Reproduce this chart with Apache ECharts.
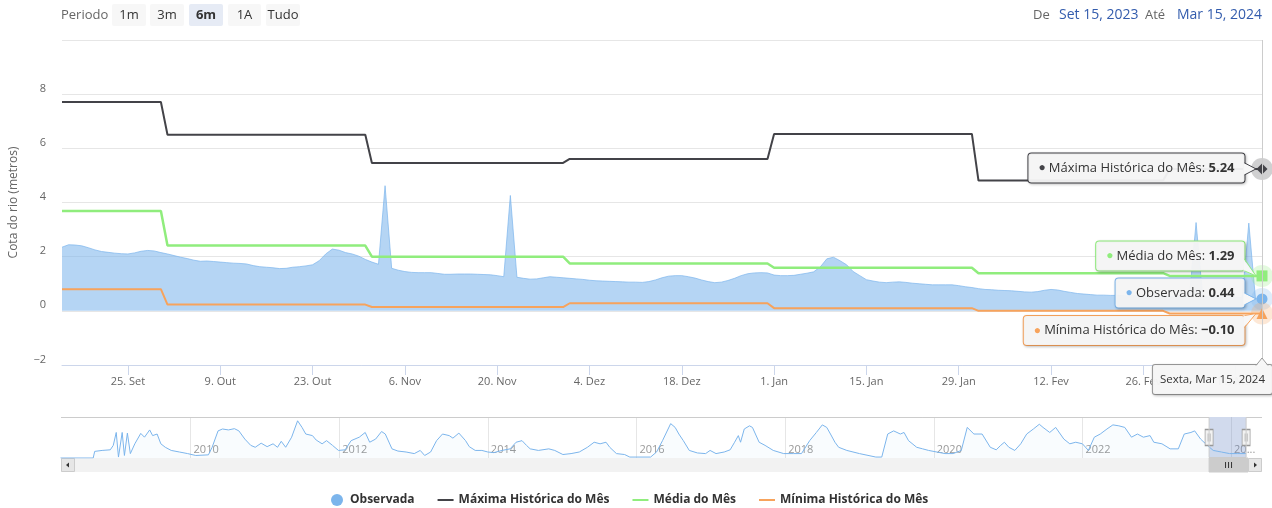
<!DOCTYPE html>
<html><head><meta charset="utf-8">
<script src="https://cdn.jsdelivr.net/npm/echarts@6/dist/echarts.min.js"></script>
<style>html,body{margin:0;padding:0;background:#fff}#c{width:1272px;height:508px}</style>
</head><body><div id="c"></div>
<script>
// ---------------- DATA ----------------
const startDate = '2023-09-15';
const endDate = '2024-03-15';
// daily observed river level (m), Sep 15 2023 .. Mar 15 2024
const observada = [
2.35,2.44,2.43,2.40,2.33,2.25,2.19,2.16,2.13,2.11,
2.10,2.14,2.20,2.23,2.21,2.15,2.10,2.04,1.98,1.93,
1.87,1.83,1.84,1.82,1.80,1.78,1.76,1.75,1.73,1.67,
1.63,1.61,1.59,1.56,1.57,1.61,1.63,1.66,1.70,1.85,
2.10,2.28,2.24,2.15,2.10,2.02,1.90,1.80,1.72,4.62,
1.57,1.50,1.45,1.42,1.41,1.41,1.41,1.38,1.35,1.35,
1.36,1.36,1.36,1.35,1.34,1.33,1.30,1.26,4.26,1.24,
1.20,1.17,1.18,1.22,1.26,1.24,1.22,1.20,1.18,1.16,
1.13,1.11,1.10,1.09,1.08,1.07,1.06,1.06,1.05,1.08,
1.14,1.22,1.28,1.30,1.30,1.26,1.21,1.14,1.08,1.04,
1.06,1.12,1.20,1.30,1.37,1.40,1.41,1.40,1.32,1.30,
1.30,1.31,1.35,1.39,1.44,1.62,1.92,1.98,1.85,1.70,
1.45,1.30,1.15,1.10,1.06,1.04,1.06,1.07,1.05,1.02,
1.00,0.98,0.96,0.96,0.96,0.96,0.93,0.89,0.86,0.82,
0.79,0.78,0.76,0.75,0.74,0.72,0.70,0.69,0.71,0.76,
0.79,0.77,0.72,0.68,0.64,0.62,0.60,0.58,0.58,0.57,
0.57,0.56,0.56,0.55,0.55,0.55,0.54,0.54,0.53,0.53,
0.52,0.52,3.26,0.52,0.51,0.51,0.50,0.50,0.49,0.49,
3.24,0.47,0.44
];
const monthStarts = ['2023-09-15','2023-10-01','2023-11-01','2023-12-01','2024-01-01','2024-02-01','2024-03-01'];
const monthEnds   = ['2023-09-30','2023-10-31','2023-11-30','2023-12-31','2024-01-31','2024-02-29','2024-03-15'];
const maxima = [7.71, 6.50, 5.46, 5.61, 6.53, 4.81, 5.24];
const media  = [3.69, 2.41, 2.00, 1.75, 1.59, 1.39, 1.29];
const minima = [0.80, 0.23, 0.14, 0.28, 0.10, 0.00, -0.10];
const xTickDates  = ['2023-09-25','2023-10-09','2023-10-23','2023-11-06','2023-11-20','2023-12-04','2023-12-18','2024-01-01','2024-01-15','2024-01-29','2024-02-12','2024-02-26','2024-03-11'];
const xTickLabels = ['25. Set','9. Out','23. Out','6. Nov','20. Nov','4. Dez','18. Dez','1. Jan','15. Jan','29. Jan','12. Fev','26. Fev','11. Mar'];
const seriesNames = ['Observada','Máxima Histórica do Mês','Média do Mês','Mínima Histórica do Mês'];
// navigator (full history, decimal years)
const navYears = [2008.25,2008.69,2008.71,2008.81,2008.92,2008.96,2009.00,2009.03,2009.08,2009.11,2009.15,2009.19,2009.25,2009.33,2009.38,2009.45,2009.49,2009.55,2009.60,2009.66,2009.74,2009.85,2009.96,2010.07,2010.24,2010.29,2010.37,2010.43,2010.51,2010.59,2010.65,2010.73,2010.81,2010.87,2010.95,2011.03,2011.11,2011.17,2011.22,2011.28,2011.36,2011.44,2011.50,2011.55,2011.64,2011.69,2011.77,2011.83,2011.91,2011.99,2012.08,2012.16,2012.27,2012.35,2012.41,2012.49,2012.57,2012.62,2012.71,2012.79,2012.90,2013.01,2013.09,2013.15,2013.23,2013.31,2013.39,2013.48,2013.53,2013.61,2013.70,2013.75,2013.83,2013.92,2014.00,2014.08,2014.19,2014.30,2014.38,2014.46,2014.52,2014.57,2014.68,2014.82,2014.90,2015.01,2015.12,2015.23,2015.34,2015.43,2015.51,2015.59,2015.64,2015.73,2015.84,2015.91,2016.19,2016.27,2016.35,2016.46,2016.52,2016.57,2016.63,2016.71,2016.82,2016.93,2016.99,2017.07,2017.18,2017.26,2017.32,2017.37,2017.40,2017.45,2017.52,2017.56,2017.65,2017.73,2017.84,2017.98,2018.11,2018.22,2018.33,2018.42,2018.50,2018.56,2018.61,2018.67,2018.72,2018.83,2019.00,2019.22,2019.30,2019.38,2019.46,2019.55,2019.60,2019.66,2019.77,2019.85,2019.93,2020.15,2020.26,2020.37,2020.45,2020.54,2020.65,2020.76,2020.84,2020.90,2020.95,2021.01,2021.09,2021.17,2021.25,2021.34,2021.42,2021.47,2021.56,2021.64,2021.75,2021.83,2021.91,2022.00,2022.08,2022.16,2022.24,2022.33,2022.41,2022.49,2022.57,2022.66,2022.74,2022.82,2022.91,2022.96,2023.07,2023.18,2023.29,2023.37,2023.46,2023.51,2023.59,2023.68,2023.76,2023.87,2023.98,2024.09,2024.20];
const navValues = [0.0,0.0,2.1,2.4,2.6,4.0,8.1,0.3,8.1,0.8,7.9,1.4,4.5,7.8,6.6,8.9,7.1,7.6,4.5,3.4,2.4,1.9,1.4,0.8,1.0,3.4,8.6,9.2,8.9,9.3,8.6,6.0,4.0,3.4,4.7,3.6,4.5,3.4,5.3,3.4,6.6,11.8,9.7,7.6,7.1,5.7,4.5,5.5,4.0,2.4,2.6,5.5,6.6,8.1,5.0,6.0,8.4,7.6,2.9,2.2,1.9,1.4,2.4,0.8,1.9,5.5,7.6,7.1,6.3,7.9,5.5,3.6,2.4,2.4,1.9,1.7,2.4,2.9,5.0,5.5,4.0,2.9,2.4,2.9,2.4,1.1,1.4,1.9,3.4,5.0,4.5,5.0,3.4,1.4,1.1,0.3,0.3,1.9,5.5,10.9,9.7,7.6,5.5,2.4,1.6,1.4,2.4,1.4,1.9,2.6,5.0,7.1,5.0,9.2,10.2,9.7,5.0,4.0,2.4,1.4,1.4,1.4,5.5,8.1,10.5,9.7,7.6,5.0,3.4,2.4,1.4,0.3,0.3,7.6,8.6,7.6,8.1,5.5,3.4,2.9,2.4,1.4,1.4,2.4,9.7,7.6,7.6,3.4,2.6,4.0,5.0,3.4,2.4,4.5,7.6,9.2,10.7,9.7,8.1,9.7,6.0,4.5,5.0,4.5,2.4,6.6,7.6,9.2,10.5,10.2,9.7,6.6,7.6,6.6,7.1,5.0,4.5,2.9,2.9,7.6,8.1,8.6,6.0,4.0,2.4,1.9,1.4,1.4,1.4];
const navYearTicks = [2010,2012,2014,2016,2018,2020,2022,2024];

// ---------------- HELPERS ----------------
const FONT = 'Open Sans';
const DAY = 86400000;
const MONTHS = ['Jan','Fev','Mar','Abr','Mai','Jun','Jul','Ago','Set','Out','Nov','Dez'];
const WEEKDAYS = ['Domingo','Segunda','Terça','Quarta','Quinta','Sexta','Sábado'];
function ts(s){ const p = s.split('-').map(Number); return Date.UTC(p[0], p[1]-1, p[2]); }
function decYear(t){ const d = new Date(t); const y = d.getUTCFullYear(); const a = Date.UTC(y,0,1), b = Date.UTC(y+1,0,1); return y + (t-a)/(b-a); }
function fmtNum(v){ const s = Math.abs(v).toFixed(2); return (v < 0 ? '\u2212' : '') + s; }
function fmtDate(t){ const d = new Date(t); return MONTHS[d.getUTCMonth()] + ' ' + d.getUTCDate() + ', ' + d.getUTCFullYear(); }
const t0 = ts(startDate), t1 = ts(endDate);
const obsData = observada.map((v,i) => [t0 + i*DAY, v]);
function stepData(vals){ const out = []; vals.forEach((v,k) => { out.push([ts(monthStarts[k]), v]); out.push([ts(monthEnds[k]), v]); }); return out; }
const xTickTs = xTickDates.map(ts);
const tickMap = {}; xTickTs.forEach((t,i) => tickMap[t] = xTickLabels[i]);
const navData = navYears.map((y,i) => [y, navValues[i]]);
const selStart = decYear(t0), selEnd = decYear(t1);

const TIP_BG = 'rgba(247,247,247,0.95)';
const tips = [
  {name: seriesNames[1], color: '#434348', val: maxima[maxima.length-1], symbol: 'diamond', dy: -1, halo: 'rgba(67,67,72,0.25)'},
  {name: seriesNames[2], color: '#90ed7d', val: media[media.length-1], symbol: 'rect', dy: -20, halo: 'rgba(144,237,125,0.25)'},
  {name: seriesNames[0], color: '#7cb5ec', val: observada[observada.length-1], symbol: 'circle', dy: -6, halo: 'rgba(124,181,236,0.25)'},
  {name: seriesNames[3], color: '#f7a35c', val: minima[minima.length-1], symbol: 'triangle', dy: 17, halo: 'rgba(247,163,92,0.25)'}
];
function tip(k) {
  const o = tips[k];
  return {
    silent: true, animation: false,
    data: [
      {coord: [t1, o.val], symbol: 'circle', symbolSize: 22, itemStyle: {color: o.halo}, label: {show: false}},
      {coord: [t1, o.val], symbol: o.symbol, symbolSize: 11, itemStyle: {color: o.color}, label: {
        show: true, position: 'left', distance: 12, offset: [0, o.dy],
        formatter: '{d|\u25CF} {n|' + o.name + ': }{v|' + fmtNum(o.val) + '}',
        backgroundColor: TIP_BG, borderColor: o.color, borderWidth: 1, borderRadius: 3,
        padding: [8, 10, 8, 10],
        shadowColor: 'rgba(0,0,0,0.2)', shadowBlur: 3, shadowOffsetX: 1, shadowOffsetY: 1,
        rich: {
          d: {color: o.color, fontSize: 12, fontFamily: FONT},
          n: {color: '#333', fontSize: 13, fontFamily: FONT},
          v: {color: '#333', fontSize: 13, fontWeight: 'bold', fontFamily: FONT}
        }
      }}
    ]
  };
}

const lineIcon = 'path://M0,0H16V2H0Z';
const chart = echarts.init(document.getElementById('c'), null, {renderer: 'canvas'});
const option = {
  animation: false,
  textStyle: {fontFamily: FONT},
  grid: [
    {left: 61, right: 10, top: 40, height: 325},
    {left: 61, right: 10, top: 417, height: 41}
  ],
  legend: {
    top: 489, left: 326, itemWidth: 16, itemHeight: 12, itemGap: 23,
    itemStyle: {borderWidth: 0},
    textStyle: {fontFamily: FONT, fontSize: 12, fontWeight: 'bold', color: '#333'},
    data: [
      {name: seriesNames[0], icon: 'circle'},
      {name: seriesNames[1], icon: lineIcon},
      {name: seriesNames[2], icon: lineIcon},
      {name: seriesNames[3], icon: lineIcon}
    ]
  },
  xAxis: [
    {
      type: 'value', gridIndex: 0, min: t0, max: t1,
      axisLine: {onZero: false, lineStyle: {color: '#ccd6eb'}},
      axisTick: {show: true, length: 10, lineStyle: {color: '#ccd6eb'}, customValues: xTickTs},
      axisLabel: {customValues: xTickTs, formatter: v => tickMap[v] || '', color: '#666', fontSize: 11, margin: 11, fontFamily: FONT, hideOverlap: false},
      splitLine: {show: false},
      axisPointer: {
        show: true, type: 'line', value: t1, status: 'show', snap: false, triggerTooltip: false,
        lineStyle: {color: '#cccccc', width: 1, type: 'solid'},
        label: {
          show: true, margin: 0,
          formatter: p => WEEKDAYS[new Date(p.value).getUTCDay()] + ', ' + fmtDate(p.value),
          backgroundColor: 'rgba(247,247,247,0.97)', borderColor: '#999', borderWidth: 1, borderRadius: 2,
          color: '#333', fontSize: 11.5, fontFamily: FONT, padding: [9, 7, 8, 7],
          shadowColor: 'rgba(0,0,0,0.2)', shadowBlur: 3, shadowOffsetX: 1, shadowOffsetY: 1
        }
      }
    },
    {
      type: 'value', gridIndex: 1, min: decYear(Date.UTC(2008,3,4)), max: 2024.416,
      axisLine: {show: false},
      axisTick: {show: false, customValues: navYearTicks},
      axisLabel: {inside: true, customValues: navYearTicks, formatter: v => (v === 2024 ? '20...' : String(v)),
        color: '#999', fontSize: 11, fontFamily: FONT, align: 'left', padding: [0, 0, 0, 3], margin: 3},
      splitLine: {show: true, lineStyle: {color: '#e6e6e6'}}
    }
  ],
  yAxis: [
    {
      type: 'value', gridIndex: 0, min: -2, max: 10, interval: 2,
      axisLine: {show: false}, axisTick: {show: false},
      splitLine: {lineStyle: {color: '#e6e6e6'}},
      axisLabel: {formatter: v => (v === 10 ? '' : (v < 0 ? '\u2212' + Math.abs(v) : String(v))),
        color: '#666', fontSize: 11, fontFamily: FONT, margin: 16, verticalAlign: 'bottom'},
      name: 'Cota do rio (metros)', nameLocation: 'middle', nameGap: 42,
      nameTextStyle: {color: '#666', fontSize: 12, fontFamily: FONT}
    },
    {type: 'value', gridIndex: 1, min: 0, max: 13, show: false}
  ],
  series: [
    {
      name: seriesNames[0], type: 'line', xAxisIndex: 0, yAxisIndex: 0, data: obsData,
      color: '#7cb5ec', showSymbol: false, z: 1,
      lineStyle: {width: 1, color: '#7cb5ec', opacity: 0.7},
      areaStyle: {color: '#7cb5ec', opacity: 0.57},
      markPoint: tip(2)
    },
    {
      name: seriesNames[1], type: 'line', data: stepData(maxima), color: '#434348', showSymbol: false, z: 3,
      lineStyle: {width: 2, color: '#434348'},
      markPoint: tip(0)
    },
    {
      name: seriesNames[2], type: 'line', data: stepData(media), color: '#90ed7d', showSymbol: false, z: 3,
      lineStyle: {width: 2.5, color: '#90ed7d'},
      markPoint: tip(1)
    },
    {
      name: seriesNames[3], type: 'line', data: stepData(minima), color: '#f7a35c', showSymbol: false, z: 3,
      lineStyle: {width: 2, color: '#f7a35c'},
      markPoint: tip(3)
    },
    {
      name: 'nav', type: 'line', xAxisIndex: 1, yAxisIndex: 1, data: navData, showSymbol: false, silent: true,
      lineStyle: {width: 1, color: '#7cb5ec'}, areaStyle: {color: 'rgba(124,181,236,0.06)'},
      markArea: {silent: true, itemStyle: {color: 'rgba(102,133,194,0.3)'}, data: [[{xAxis: selStart}, {xAxis: selEnd}]]},
      markPoint: {silent: true, animation: false, label: {show: false},
        symbol: 'path://M0,0H8V16H0Z M3,4V12 M5,4V12', symbolSize: [8, 16],
        itemStyle: {color: '#f2f2f2', borderColor: '#999', borderWidth: 1},
        data: [{coord: [selStart, 6.5]}, {coord: [selEnd, 6.5]}]}
    }
  ]
};
chart.setOption(option);

// --------- decorations: range selector, callout tails, navigator outline, scrollbar ---------
const xs = chart.convertToPixel({xAxisIndex: 1}, selStart);
const xe = chart.convertToPixel({xAxisIndex: 1}, selEnd);
const L = 61, R = 1262, navTop = 417, navBot = 458, sbH = 14;
function btn(x, w, label, active) {
  return [
    {type: 'rect', shape: {x: x, y: 4, width: w, height: 22, r: 2}, style: {fill: active ? '#e6ebf5' : '#f7f7f7'}},
    {type: 'text', x: x + w/2, y: 15, style: {text: label, fill: '#333', font: (active ? 'bold ' : '') + '13px ' + FONT, align: 'center', verticalAlign: 'middle'}}
  ];
}
function tail(o) {
  const p = chart.convertToPixel({xAxisIndex: 0, yAxisIndex: 0}, [t1, o.val]);
  const px = p[0], py = p[1];
  const bx = px - 17.5, cy = py + o.dy, top = cy - 16, bot = cy + 16;
  const ay = Math.max(top + 7, Math.min(bot - 7, py));
  const tip = [px - 6, py];
  return [
    {type: 'polygon', z: 100, shape: {points: [[bx - 1, ay - 6], tip, [bx - 1, ay + 6]]}, style: {fill: '#f7f7f7'}},
    {type: 'polyline', z: 101, shape: {points: [[bx, ay - 6], tip, [bx, ay + 6]]}, style: {stroke: o.color, lineWidth: 1, fill: null}}
  ];
}
const axisY = chart.convertToPixel({yAxisIndex: 0}, -2);
const thumbR = Math.min(xe + 2, R - 14);
const mid = (xs + thumbR) / 2;
const g = [
  {type: 'text', x: 61, y: 15, style: {text: 'Periodo', fill: '#666', font: '13px ' + FONT, verticalAlign: 'middle'}},
  ...btn(112, 34, '1m'), ...btn(150, 34, '3m'), ...btn(189, 34, '6m', true), ...btn(228, 33, '1A'), ...btn(266, 34, 'Tudo'),
  {type: 'text', x: 1033, y: 15, style: {text: 'De', fill: '#666', font: '13px ' + FONT, verticalAlign: 'middle'}},
  {type: 'text', x: 1059, y: 15, style: {text: fmtDate(t0), fill: '#335cad', font: '14px ' + FONT, verticalAlign: 'middle'}},
  {type: 'text', x: 1145, y: 15, style: {text: 'Até', fill: '#666', font: '13px ' + FONT, verticalAlign: 'middle'}},
  {type: 'text', x: 1177, y: 15, style: {text: fmtDate(t1), fill: '#335cad', font: '14px ' + FONT, verticalAlign: 'middle'}},
  ...tips.flatMap(tail),
  {type: 'polygon', z: 100, shape: {points: [[R - 6, axisY + 1], [R, axisY - 7], [R + 6, axisY + 1]]}, style: {fill: '#f7f7f7'}},
  {type: 'polyline', z: 101, shape: {points: [[R - 6, axisY + 0.5], [R, axisY - 7], [R + 6, axisY + 0.5]]}, style: {stroke: '#999', lineWidth: 1, fill: null}},
  {type: 'polyline', shape: {points: [[L, navTop + 0.5], [xs, navTop + 0.5], [xs, navBot - 0.5], [xe, navBot - 0.5], [xe, navTop + 0.5], [R, navTop + 0.5]]}, style: {stroke: '#cccccc', lineWidth: 1, fill: null}, z: 10},
  {type: 'rect', shape: {x: L, y: navBot, width: R - L, height: sbH}, style: {fill: '#f2f2f2'}},
  {type: 'rect', shape: {x: xs, y: navBot, width: thumbR - xs, height: sbH}, style: {fill: '#cccccc', stroke: '#cccccc'}},
  {type: 'polyline', shape: {points: [[mid - 3, navBot + 4], [mid - 3, navBot + 10]]}, style: {stroke: '#333', lineWidth: 1}},
  {type: 'polyline', shape: {points: [[mid, navBot + 4], [mid, navBot + 10]]}, style: {stroke: '#333', lineWidth: 1}},
  {type: 'polyline', shape: {points: [[mid + 3, navBot + 4], [mid + 3, navBot + 10]]}, style: {stroke: '#333', lineWidth: 1}},
  {type: 'rect', shape: {x: L + 0.5, y: navBot + 0.5, width: 13, height: sbH - 1}, style: {fill: '#e6e6e6', stroke: '#cccccc'}},
  {type: 'polygon', shape: {points: [[L + 5, navBot + 7], [L + 8, navBot + 4.5], [L + 8, navBot + 9.5]]}, style: {fill: '#333'}},
  {type: 'rect', shape: {x: R - 13.5, y: navBot + 0.5, width: 13, height: sbH - 1}, style: {fill: '#e6e6e6', stroke: '#cccccc'}},
  {type: 'polygon', shape: {points: [[R - 5, navBot + 7], [R - 8, navBot + 4.5], [R - 8, navBot + 9.5]]}, style: {fill: '#333'}}
];
chart.setOption({graphic: g});
</script>
</body></html>
